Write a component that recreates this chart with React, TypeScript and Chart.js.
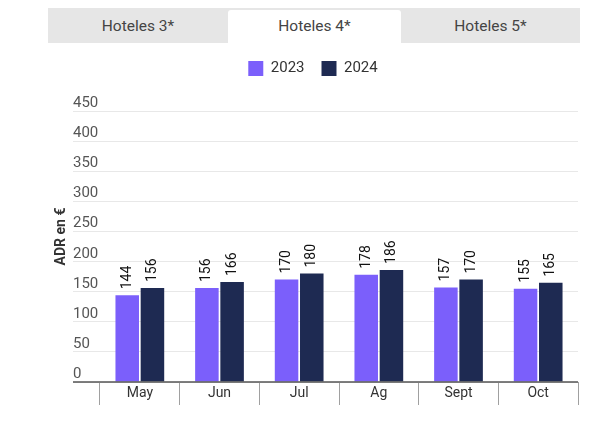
import React, { useEffect, useRef } from "react";
import { Chart, registerables } from "chart.js";

Chart.register(...registerables);

const categories = ["May", "Jun", "Jul", "Ag", "Sept", "Oct"];
const values2023 = [144, 156, 170, 178, 157, 155];
const values2024 = [156, 166, 180, 186, 170, 165];
const seriesLabels = ["2023", "2024"];
const seriesColors = ["#7B5FFB", "#1E2A52"];
const tabLabels = ["Hoteles 3*", "Hoteles 4*", "Hoteles 5*"];
const activeTab = 1;
const yAxisTitle = "ADR en €";
const yMin = 0;
const yMax = 450;
const yStep = 50;

const FONT = "Roboto, 'Noto Sans', sans-serif";

const legendSpacer = {
  id: "legendSpacer",
  beforeInit(chart: any) {
    const legend = chart.legend;
    if (!legend) return;
    const origFit = legend.fit;
    legend.fit = function () {
      origFit.call(this);
      this.height += 25;
    };
  },
};

const decor = {
  id: "decor",
  afterDatasetsDraw(chart: any) {
    const { ctx, chartArea } = chart;
    const yScale = chart.scales.y;
    const gutter = 27;
    ctx.save();
    // axis line
    const y0 = yScale.getPixelForValue(0);
    ctx.strokeStyle = "#555";
    ctx.lineWidth = 1.6;
    ctx.beginPath();
    ctx.moveTo(chartArea.left - gutter, y0);
    ctx.lineTo(chartArea.right, y0);
    ctx.stroke();

    // y tick labels above gridlines
    ctx.fillStyle = "#555";
    ctx.font = `15px ${FONT}`;
    ctx.textAlign = "left";
    ctx.textBaseline = "alphabetic";
    yScale.ticks.forEach((t: any) => {
      const py = yScale.getPixelForValue(t.value);
      ctx.fillText(String(t.value), chartArea.left - gutter, py - 4);
    });

    // y axis title
    ctx.save();
    ctx.translate(chartArea.left - 39, (chartArea.top + chartArea.bottom) / 2 - 10);
    ctx.rotate(-Math.PI / 2);
    ctx.textAlign = "center";
    ctx.textBaseline = "middle";
    ctx.font = `bold 14px ${FONT}`;
    ctx.fillStyle = "#333";
    ctx.fillText(yAxisTitle, 0, 0);
    ctx.restore();

    // data labels
    ctx.font = `14px ${FONT}`;
    ctx.fillStyle = "#111";
    chart.data.datasets.forEach((ds: any, di: number) => {
      const meta = chart.getDatasetMeta(di);
      meta.data.forEach((el: any, i: number) => {
        ctx.save();
        ctx.translate(el.x, el.y - 6);
        ctx.rotate(-Math.PI / 2);
        ctx.textAlign = "left";
        ctx.textBaseline = "middle";
        ctx.fillText(String(ds.data[i]), 0, 0);
        ctx.restore();
      });
    });
    ctx.restore();
  },
};

function ChartCanvas() {
  const ref = useRef<HTMLCanvasElement | null>(null);
  useEffect(() => {
    if (!ref.current) return;
    Chart.defaults.font.family = FONT;
    const chart = new Chart(ref.current, {
      type: "bar",
      data: {
        labels: categories,
        datasets: [
          {
            label: seriesLabels[0],
            data: values2023,
            backgroundColor: seriesColors[0],
            categoryPercentage: 0.633,
            barPercentage: 0.933,
          },
          {
            label: seriesLabels[1],
            data: values2024,
            backgroundColor: seriesColors[1],
            categoryPercentage: 0.633,
            barPercentage: 0.933,
          },
        ],
      },
      options: {
        animation: false,
        responsive: false,
        devicePixelRatio: 1,
        layout: { padding: { top: 0, right: 2, left: 0, bottom: 0 } },
        plugins: {
          legend: {
            display: true,
            position: "top",
            labels: {
              boxWidth: 15,
              boxHeight: 15,
              padding: 17,
              color: "#333",
              font: { size: 15, family: FONT },
            },
          },
          tooltip: { enabled: false },
        },
        scales: {
          x: {
            grid: {
              offset: true,
              drawOnChartArea: false,
              tickLength: 23,
              color: "#a0a0a0",
            },
            border: { display: false },
            ticks: { padding: -20, color: "#333", font: { size: 14, family: FONT } },
            afterFit: (s: any) => {
              s.height = 41;
            },
          },
          y: {
            min: yMin,
            max: yMax,
            ticks: { display: false, stepSize: yStep },
            grid: { color: "#e8e8e8", tickLength: 27, drawTicks: true },
            border: { display: false },
            afterFit: (s: any) => {
              s.width = 52;
            },
          },
        },
      },
      plugins: [legendSpacer, decor],
    } as any);
    return () => chart.destroy();
  }, []);
  return (
    <canvas
      ref={ref}
      width={532}
      height={379}
      style={{ position: "absolute", left: 48, top: 44, width: 532, height: 379 }}
    />
  );
}

export default function App() {
  const tabWidths = [180, 173, 179];
  let acc = 0;
  return (
    <div style={{ position: "absolute", left: 0, top: 0, width: 600, height: 423, background: "#fff", fontFamily: FONT }}>
      <div
        style={{
          position: "absolute",
          left: 48,
          top: 8,
          width: 532,
          height: 35,
          background: "#e6e6e6",
        }}
      >
        {tabLabels.map((t, i) => {
          const left = acc;
          acc += tabWidths[i];
          const active = i === activeTab;
          return (
            <div
              key={t}
              style={{
                position: "absolute",
                left,
                top: active ? 2 : 0,
                width: tabWidths[i],
                height: active ? 33 : 35,
                background: active ? "#fff" : "transparent",
                borderRadius: active ? "3px 3px 0 0" : 0,
                display: "flex",
                alignItems: "center",
                justifyContent: "center",
                fontSize: 15.5,
                color: "#444",
                paddingBottom: active ? 2 : 0,
                boxSizing: "border-box",
              }}
            >
              {t}
            </div>
          );
        })}
      </div>
      <ChartCanvas />
    </div>
  );
}
